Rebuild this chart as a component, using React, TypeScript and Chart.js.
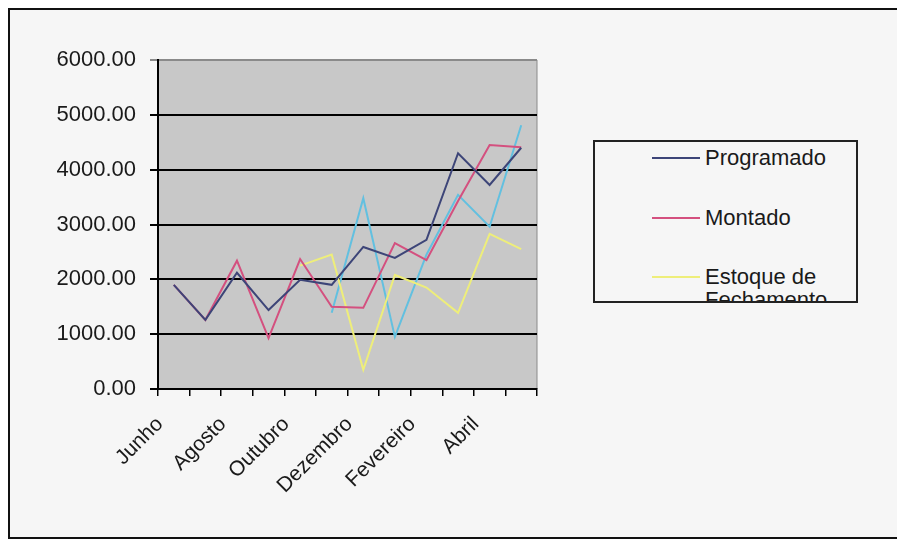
import React, { useEffect, useRef } from "react";
import { Chart, registerables } from "chart.js";

Chart.register(...registerables);

const months = [
  "Junho", "Julho", "Agosto", "Setembro", "Outubro", "Novembro",
  "Dezembro", "Janeiro", "Fevereiro", "Março", "Abril", "Maio",
];
const programado = [1900, 1260, 2120, 1440, 1990, 1900, 2590, 2390, 2720, 4300, 3720, 4400];
const montado = [1900, 1260, 2340, 930, 2370, 1500, 1480, 2660, 2350, 3430, 4450, 4410];
const estoqueFechamento = [null, null, null, null, 2250, 2450, 350, 2080, 1850, 1390, 2830, 2550];
const serie4 = [null, null, null, null, null, 1390, 3480, 950, 2450, 3540, 2960, 4810];
const yTicks = [0, 1000, 2000, 3000, 4000, 5000, 6000];

const legendItems = [
  { label: "Programado", color: "#3d4578", top: 4 },
  { label: "Montado", color: "#d4507f", top: 64 },
  { label: "Estoque de Fechamento", color: "#eeee7a", top: 123 },
];

const FONT = "'Liberation Sans', Arial, sans-serif";

export default function App() {
  const ref = useRef<HTMLCanvasElement | null>(null);

  useEffect(() => {
    if (!ref.current) return;
    const bgPlugin = {
      id: "plotBg",
      beforeDraw(chart: any) {
        const { ctx, chartArea } = chart;
        ctx.save();
        ctx.fillStyle = "#c8c8c8";
        ctx.fillRect(chartArea.left, chartArea.top, chartArea.right - chartArea.left, chartArea.bottom - chartArea.top);
        ctx.strokeStyle = "#8a8a8a";
        ctx.lineWidth = 1;
        ctx.beginPath();
        ctx.moveTo(chartArea.right, chartArea.top);
        ctx.lineTo(chartArea.right, chartArea.bottom);
        ctx.stroke();
        ctx.restore();
      },
    };
    const chart = new Chart(ref.current, {
      type: "line",
      data: {
        labels: months,
        datasets: [
          { label: "Programado", data: programado, borderColor: "#3d4578", borderWidth: 2 },
          { label: "Montado", data: montado, borderColor: "#d4507f", borderWidth: 2 },
          { label: "Estoque de Fechamento", data: estoqueFechamento as any, borderColor: "#eeee7a", borderWidth: 2 },
          { label: "Série 4", data: serie4 as any, borderColor: "#62c0e0", borderWidth: 2 },
        ],
      },
      options: {
        animation: false,
        responsive: false,
        maintainAspectRatio: false,
        layout: { padding: { left: 0, top: 50, right: 364, bottom: 0 } },
        elements: { point: { radius: 0 }, line: { tension: 0 } },
        plugins: { legend: { display: false }, tooltip: { enabled: false } },
        scales: {
          x: {
            offset: true,
            afterFit: (s: any) => { s.height = 148; },
            grid: { drawOnChartArea: false, offset: true, tickLength: 7, color: "#000", lineWidth: 1.5 },
            border: { color: "#000", width: 2 },
            ticks: {
              autoSkip: false,
              minRotation: 45,
              maxRotation: 45,
              padding: 16,
              labelOffset: -14,
              color: "#1a1a1a",
              font: { family: FONT, size: 21 },
              callback: (_v: any, i: number) => (i % 2 === 0 ? months[i] : ""),
            },
          },
          y: {
            min: yTicks[0],
            max: yTicks[yTicks.length - 1],
            afterFit: (s: any) => { s.width = 148; },
            afterBuildTicks: (s: any) => { s.ticks = yTicks.map((v) => ({ value: v })); },
            grid: {
              tickLength: 8,
              lineWidth: 2,
              color: (c: any) => (c.tick && c.tick.value === 6000 ? "#8a8a8a" : "#000"),
            },
            border: { color: "#000", width: 2 },
            ticks: {
              padding: 14,
              color: "#1a1a1a",
              font: { family: FONT, size: 22 },
              callback: (v: any) => Number(v).toFixed(2),
            },
          },
        },
      },
      plugins: [bgPlugin],
    } as any);
    return () => chart.destroy();
  }, []);

  return (
    <div
      style={{
        position: "relative",
        width: 895,
        height: 531,
        border: "2px solid #111",
        boxSizing: "border-box",
        background: "#f6f6f6",
        fontFamily: FONT,
      }}
    >
      <canvas ref={ref} width={891} height={527} style={{ position: "absolute", left: 0, top: 0, width: 891, height: 527 }} />
      <div
        style={{
          position: "absolute",
          left: 583,
          top: 130,
          width: 265,
          height: 163,
          border: "2px solid #222",
          boxSizing: "border-box",
          background: "#f6f6f6",
          overflow: "hidden",
        }}
      >
        {legendItems.map((it) => (
          <div key={it.label} style={{ position: "absolute", left: 0, top: it.top, width: 261 }}>
            <div
              style={{
                position: "absolute",
                left: 57,
                top: 11,
                width: 48,
                height: 0,
                borderTop: `2px solid ${it.color}`,
              }}
            />
            <div
              style={{
                position: "absolute",
                left: 110,
                top: 0,
                width: 148,
                fontSize: 22,
                lineHeight: "23px",
                color: "#1a1a1a",
              }}
            >
              {it.label}
            </div>
          </div>
        ))}
      </div>
    </div>
  );
}
